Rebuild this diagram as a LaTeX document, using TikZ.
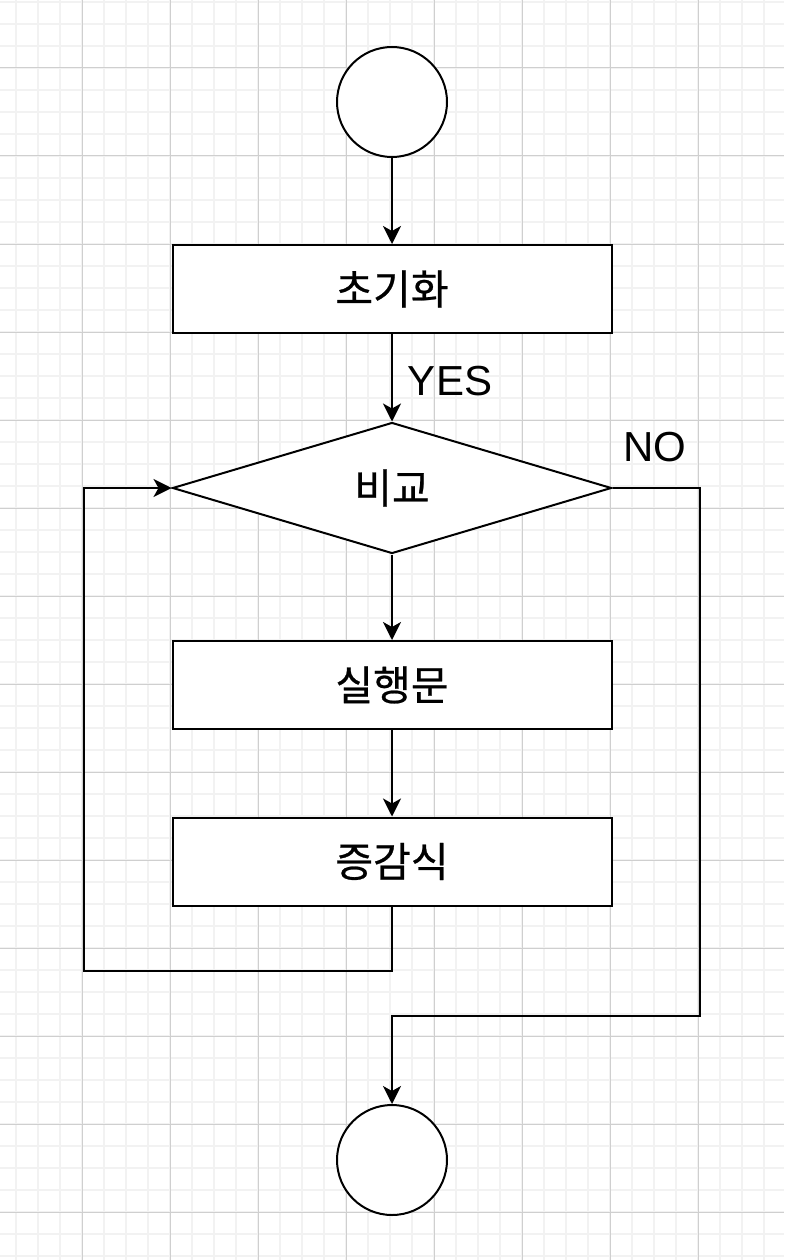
\documentclass[tikz,border=0pt]{standalone}
\usepackage{fontspec}
\setmainfont{Liberation Sans}
\newfontfamily\kofont{Noto Sans CJK KR}[FakeBold=0.6]
\usetikzlibrary{arrows.meta}
\usetikzlibrary{shapes.geometric}

\tikzset{
  gridminor/.style={draw=black!5, line width=2pt},
  gridmajor/.style={draw=black!19, line width=1pt},
  flow/.style={line width=2pt},
  term/.style={flow, draw, fill=white, circle, minimum size=110pt, inner sep=0pt},
  stepbox/.style={flow, draw, fill=white, rectangle, minimum width=439pt, minimum height=88pt,
    font=\kofont\fontsize{41}{44}\selectfont},
  cond/.style={flow, draw, fill=white, diamond, minimum width=439pt, minimum height=131pt,
    inner sep=0pt, font=\kofont\fontsize{41}{44}\selectfont},
  lbl/.style={font=\fontsize{42}{46}\selectfont}
}

\begin{document}
\begin{tikzpicture}[x=1pt, y=-1pt, >={Stealth[length=18pt, width=18pt, inset=5pt]}]

    % background grid
    \fill[white] (0,0) rectangle (784,1260);
    \useasboundingbox (0,0) rectangle (784,1260);
    \foreach \x in {16,38,...,784} \draw[gridminor] (\x,0) -- (\x,1260);
    \foreach \y in {2,24,...,1260} \draw[gridminor] (0,\y) -- (784,\y);
    \foreach \x in {82,170,...,784} \draw[gridmajor] (\x,0) -- (\x,1260);
    \foreach \y in {68,156,...,1260} \draw[gridmajor] (0,\y) -- (784,\y);

    % nodes
    \node[term] (start) at (392,102) {};
    \node[stepbox] (init) at (392,289) {초기화};
    \node[cond] (cmp) at (392,488) {비교};
    \node[stepbox] (body) at (392,685) {실행문};
    \node[stepbox] (incr) at (392,861.5) {증감식};
    \node[term] (stop) at (392,1160) {};

    \coordinate (back) at (84,971);
    \coordinate (out) at (700,1016);

    % connectors
    \draw[flow, ->] (start) -- (init);
    \draw[flow, ->] (init) -- (cmp.north);
    \node[lbl] (yes) at (450,381) {YES};
    \draw[flow, ->] (cmp) -- (body);
    \draw[flow, ->] (body) -- (incr);
    \draw[flow, ->] (incr.south) |- (back) |- (cmp.west);
    \draw[flow, ->] (cmp.east) -| (out) -| (stop.north);
    \node[lbl] (no) at (655,447) {NO};

\end{tikzpicture}
\end{document}
